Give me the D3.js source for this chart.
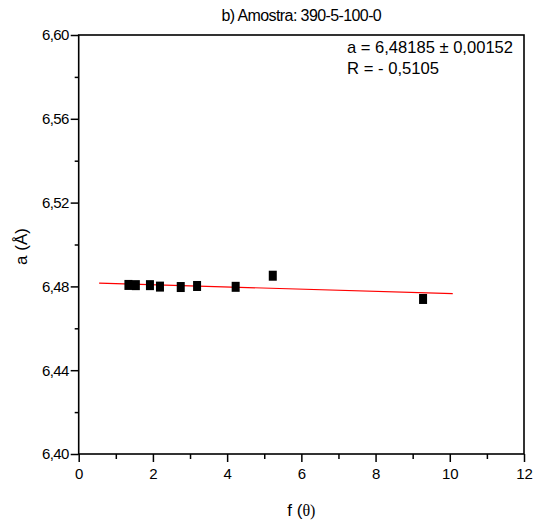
<!DOCTYPE html>
<html>
<head>
<meta charset="utf-8">
<script src="https://cdn.jsdelivr.net/npm/d3@7"></script>
<style>
  html, body { margin: 0; padding: 0; background: #fff; }
  svg text { font-family: "Liberation Sans", Arial, sans-serif; fill: #000; }
</style>
</head>
<body>
<svg id="chart" width="541" height="521"></svg>
<script>
// Lattice parameter a versus f(theta) for sample 390-5-100-0
const fTheta = [1.34, 1.54, 1.92, 2.19, 2.75, 3.19, 4.23, 5.23, 9.28];
const latticeA = [6.4807, 6.4806, 6.4806, 6.4799, 6.4797, 6.4802, 6.4798, 6.4851, 6.4740];

// Linear fit a = intercept + slope * f(theta), drawn over fitRange
const fitIntercept = [6.48185];
const fitSlope = [-0.00053];
const fitRange = [0.55, 10.08];

const xTicks = [0, 2, 4, 6, 8, 10, 12];
const xMinorTicks = [1, 3, 5, 7, 9, 11];
const yTicks = [6.40, 6.44, 6.48, 6.52, 6.56, 6.60];
const yMinorTicks = [6.42, 6.46, 6.50, 6.54, 6.58];

const titleText = "b) Amostra: 390-5-100-0";
const fitLines = ["a = 6,48185 \u00B1 0,00152", "R = - 0,5105"];

const svg = d3.select("#chart");
const plotLeft = 78.7, plotRight = 524, plotTop = 35, plotBottom = 454;

const x = d3.scaleLinear().domain([0, 12]).range([plotLeft, plotRight]);
const y = d3.scaleLinear().domain([6.40, 6.60]).range([plotBottom, plotTop]);

const comma = v => d3.format(".2f")(v).replace(".", ",");

// minor ticks
const xMinor = svg.append("g").attr("transform", `translate(0,${plotBottom})`)
  .call(d3.axisBottom(x).tickValues(xMinorTicks).tickSize(5).tickFormat(""));
const yMinor = svg.append("g").attr("transform", `translate(${plotLeft},0)`)
  .call(d3.axisLeft(y).tickValues(yMinorTicks).tickSize(4).tickFormat(""));

// major ticks with labels
const xAxis = svg.append("g").attr("transform", `translate(0,${plotBottom})`)
  .call(d3.axisBottom(x).tickValues(xTicks).tickSize(8).tickPadding(6).tickFormat(d3.format("d")));
const yAxis = svg.append("g").attr("transform", `translate(${plotLeft},0)`)
  .call(d3.axisLeft(y).tickValues(yTicks).tickSize(8).tickPadding(2).tickFormat(comma));

[xMinor, yMinor, xAxis, yAxis].forEach(g => {
  g.select(".domain").remove();
  g.selectAll(".tick line").attr("stroke", "#000").attr("stroke-width", 1.5);
});
xAxis.selectAll(".tick text").attr("font-size", 15).attr("font-family", "Liberation Sans, Arial, sans-serif");
yAxis.selectAll(".tick text").attr("font-size", 15).attr("font-family", "Liberation Sans, Arial, sans-serif")
  .attr("letter-spacing", "-0.6");

// plot frame
svg.append("rect")
  .attr("x", x(0)).attr("y", y(6.60))
  .attr("width", x(12) - x(0)).attr("height", y(6.40) - y(6.60))
  .attr("fill", "none").attr("stroke", "#000").attr("stroke-width", 1.6);

// fitted line
svg.append("line")
  .attr("x1", x(fitRange[0])).attr("y1", y(fitIntercept[0] + fitSlope[0] * fitRange[0]))
  .attr("x2", x(fitRange[1])).attr("y2", y(fitIntercept[0] + fitSlope[0] * fitRange[1]))
  .attr("stroke", "#ff0000").attr("stroke-width", 1.2);

// data points
const pts = fTheta.map((f, i) => ({ f, a: latticeA[i] }));
svg.append("g").selectAll("rect").data(pts).enter().append("rect")
  .attr("x", d => x(d.f) - 4).attr("y", d => y(d.a) - 5)
  .attr("width", 8).attr("height", 10).attr("fill", "#000");

// title
svg.append("text")
  .attr("x", (plotLeft + plotRight) / 2).attr("y", 21)
  .attr("text-anchor", "middle").attr("font-size", 16).attr("letter-spacing", "-0.6")
  .text(titleText);

// fit annotation
svg.append("text").attr("x", 347).attr("y", 53).attr("font-size", 17)
  .attr("textLength", 166).attr("lengthAdjust", "spacingAndGlyphs").text(fitLines[0]);
svg.append("text").attr("x", 347).attr("y", 74).attr("font-size", 17)
  .attr("textLength", 92).attr("lengthAdjust", "spacingAndGlyphs").text(fitLines[1]);

// axis titles
const xt = svg.append("text").attr("x", (plotLeft + plotRight) / 2).attr("y", 516)
  .attr("text-anchor", "middle").attr("font-size", 17);
xt.append("tspan").text("f (");
xt.append("tspan").attr("font-family", "Liberation Serif, Times New Roman, serif").attr("font-size", 16).text("\u03B8)");

svg.append("text")
  .attr("transform", `translate(27,${(plotTop + plotBottom) / 2 + 2}) rotate(-90)`)
  .attr("text-anchor", "middle").attr("font-size", 17)
  .text("a (\u00C5)");
</script>
</body>
</html>
